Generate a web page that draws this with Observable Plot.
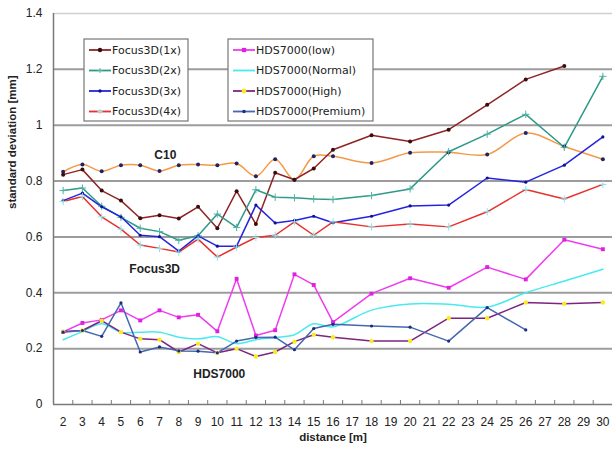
<!DOCTYPE html>
<html>
<head>
<meta charset="utf-8">
<script src="https://cdn.jsdelivr.net/npm/d3@7"></script>
<script src="https://cdn.jsdelivr.net/npm/@observablehq/plot@0.6"></script>
<style>
  html, body { margin: 0; padding: 0; background: #fff; }
  #chart svg { display: block; }
</style>
</head>
<body>
<div id="chart"></div>
<script>
// distances (m) at which the measurements were taken
const distance = [2,3,4,5,6,7,8,9,10,11,12,13,14,15,16,18,20,22,24,26,28,30];
const xTickLabels = d3.range(2, 31);
const yTicks = [0, 0.2, 0.4, 0.6, 0.8, 1, 1.2, 1.4];

// standard deviation [mm]
const c10      = [0.833,0.859,0.835,0.857,0.857,0.836,0.857,0.859,0.857,0.863,0.817,0.878,0.805,0.889,0.889,0.865,0.901,0.903,0.895,0.972,0.924,0.878];
const focus1x  = [0.823,0.841,0.766,0.730,0.667,0.678,0.666,0.708,0.631,0.764,0.646,0.830,0.805,0.845,0.912,0.964,0.942,0.984,1.073,1.164,1.212,null];
const focus2x  = [0.766,0.775,0.710,0.670,0.631,0.619,0.588,0.604,0.682,0.634,0.769,0.742,0.740,0.736,0.734,0.748,0.772,0.905,0.968,1.039,0.921,1.175];
const focus3x  = [0.730,0.757,0.708,0.672,0.606,0.601,0.549,0.604,0.567,0.567,0.714,0.650,0.659,0.674,0.651,0.674,0.711,0.714,0.811,0.796,0.857,0.958];
const focus4x  = [0.727,0.745,0.672,0.628,0.571,0.559,0.546,0.592,0.528,0.564,0.598,0.606,0.654,0.606,0.654,0.636,0.646,0.636,0.690,0.770,0.736,0.788];
const hdsLow     = [0.260,0.292,0.303,0.337,0.301,0.337,0.312,0.321,0.262,0.450,0.247,0.266,0.466,0.428,0.295,0.397,0.452,0.418,0.492,0.448,0.590,0.556];
const hdsNormal  = [0.232,0.261,0.289,0.259,0.259,0.259,0.241,0.235,0.243,0.218,0.232,0.240,0.250,0.289,0.278,0.338,0.360,0.359,0.349,0.400,0.442,0.484];
const hdsHigh    = [0.261,0.265,0.300,0.259,0.235,0.232,0.188,0.218,0.185,0.200,0.172,0.188,0.225,0.250,0.241,0.227,0.227,0.309,0.309,0.365,0.361,0.365];
const hdsPremium = [0.259,0.265,0.244,0.364,0.188,0.206,0.192,0.191,0.185,0.227,0.240,0.241,0.196,0.272,0.287,0.281,0.277,0.227,0.347,0.267,null,null];

const seriesNames = ["C10","Focus3D(1x)","Focus3D(2x)","Focus3D(3x)","Focus3D(4x)","HDS7000(low)","HDS7000(Normal)","HDS7000(High)","HDS7000(Premium)"];
const seriesValues = [c10, focus1x, focus2x, focus3x, focus4x, hdsLow, hdsNormal, hdsHigh, hdsPremium];

const groupLabels = [
  {text: "C10", x: 7.3, y: 0.892},
  {text: "Focus3D", x: 6.75, y: 0.484},
  {text: "HDS7000", x: 10.1, y: 0.108}
];

// styles
const style = {
  "C10":              {stroke: "#f29a48", mark: "#1e2466", symbol: "circle", r: 2, curve: "catmull-rom"},
  "Focus3D(1x)":      {stroke: "#8e2424", mark: "#3a0c0c", symbol: "circle", r: 2, curve: "linear"},
  "Focus3D(2x)":      {stroke: "#2f9a88", mark: "#4fb3a4", symbol: "plus", r: 2.5, curve: "linear"},
  "Focus3D(3x)":      {stroke: "#2424e0", mark: "#14148a", symbol: "circle", r: 1.6, curve: "linear"},
  "Focus3D(4x)":      {stroke: "#e8302c", mark: "#8ee4ea", symbol: "plus", r: 2.5, curve: "linear"},
  "HDS7000(low)":     {stroke: "#f03cf0", mark: "#e020e0", symbol: "square", r: 2.2, curve: "linear"},
  "HDS7000(Normal)":  {stroke: "#48eaf0", mark: null, symbol: "circle", r: 0, curve: "catmull-rom"},
  "HDS7000(High)":    {stroke: "#7c2480", mark: "#f8ec20", symbol: "circle", r: 2.2, curve: "linear"},
  "HDS7000(Premium)": {stroke: "#4468b0", mark: "#1c2c80", symbol: "circle", r: 1.6, curve: "linear"}
};

const rows = [];
seriesNames.forEach((name, si) => {
  distance.forEach((d, i) => {
    const v = seriesValues[si][i];
    if (v != null) rows.push({series: name, distance: d, value: v});
  });
});

const xBoundaries = d3.range(2.5, 30, 1);
const W = 612, H = 454;

const marks = [
  Plot.ruleY(yTicks.filter(d => d > 0 && d < 1.4), {stroke: "#9c9c9c", strokeWidth: 2}),
  Plot.ruleY([1.4], {stroke: "#d0d0d0", strokeWidth: 1.5}),
  Plot.ruleX([1.5], {y1: 0, y2: 1.4, stroke: "#7a7a7a", strokeWidth: 1.5}),
  Plot.ruleY([0], {stroke: "#7a7a7a", strokeWidth: 1.5}),
  Plot.tickX(xBoundaries, {x: d => d, stroke: "#7a7a7a", strokeWidth: 1, insetTop: 387})
];
seriesNames.forEach(name => {
  const s = style[name];
  const data = rows.filter(r => r.series === name);
  marks.push(Plot.line(data, {x: "distance", y: "value", stroke: s.stroke, strokeWidth: 1.5, curve: s.curve}));
});
seriesNames.forEach(name => {
  const s = style[name];
  if (!s.mark) return;
  const data = rows.filter(r => r.series === name);
  if (s.symbol === "plus") {
    marks.push(Plot.dot(data, {x: "distance", y: "value", symbol: "plus", r: s.r, stroke: s.mark, strokeWidth: 1}));
  } else {
    marks.push(Plot.dot(data, {x: "distance", y: "value", symbol: s.symbol, r: s.r, fill: s.mark, stroke: "none"}));
  }
});
marks.push(
  Plot.text(groupLabels, {x: "x", y: "y", text: "text", fontSize: 12, fontWeight: "bold", fill: "#222"}),
  Plot.axisY({ticks: yTicks, tickSize: 0, tickPadding: 11, tickFormat: d => String(d), fontSize: 12, label: null}),
  Plot.axisX({ticks: xTickLabels, tickSize: 0, tickPadding: 13, tickFormat: d => String(d), fontSize: 12, label: null}),
  Plot.text(["distance [m]"], {frameAnchor: "bottom", dy: 36, fontSize: 11.5, fontWeight: "bold", fill: "#222"}),
  Plot.text(["standard deviation [mm]"], {frameAnchor: "left", dx: -41, rotate: -90, fontSize: 11.5, fontWeight: "bold", fill: "#222"})
);

const chart = Plot.plot({
  width: W, height: H,
  marginLeft: 53, marginRight: 0, marginTop: 13, marginBottom: 50,
  style: {fontFamily: "'Liberation Sans', Arial, sans-serif", color: "#222", background: "#fff"},
  x: {domain: [1.5, 30.5], axis: null},
  y: {domain: [0, 1.4], axis: null},
  marks
});
document.getElementById("chart").appendChild(chart);

// legend boxes drawn inside the plot
const svg = d3.select(chart);
const symbolGen = {circle: d3.symbolCircle, square: d3.symbolSquare};
function legend(names, bx, by, bw, bh) {
  const g = svg.append("g")
    .attr("font-family", "'DejaVu Sans', sans-serif")
    .attr("font-size", 11)
    .attr("text-anchor", "start");
  g.append("rect").attr("x", bx).attr("y", by).attr("width", bw).attr("height", bh)
    .attr("fill", "#fff").attr("stroke", "#777").attr("stroke-width", 1.2);
  names.forEach((name, i) => {
    const s = style[name];
    const cy = by + 11 + i * 20.5;
    g.append("line").attr("x1", bx + 5).attr("x2", bx + 27).attr("y1", cy).attr("y2", cy)
      .attr("stroke", s.stroke).attr("stroke-width", 1.8);
    if (s.mark) {
      const p = g.append("path").attr("transform", `translate(${bx + 16},${cy})`);
      if (s.symbol === "plus") {
        p.attr("d", "M-2.5,0H2.5M0,-2.5V2.5").attr("stroke", s.mark).attr("fill", "none");
      } else {
        p.attr("d", d3.symbol(symbolGen[s.symbol], Math.PI * s.r * s.r * 1.2)()).attr("fill", s.mark);
      }
    }
    g.append("text").attr("x", bx + 28).attr("y", cy).attr("dy", "0.35em")
      .attr("text-anchor", "start").attr("fill", "#222").text(name);
  });
}
legend(["Focus3D(1x)","Focus3D(2x)","Focus3D(3x)","Focus3D(4x)"], 84, 39, 104, 82);
legend(["HDS7000(low)","HDS7000(Normal)","HDS7000(High)","HDS7000(Premium)"], 228, 39, 145, 82);
</script>
</body>
</html>
